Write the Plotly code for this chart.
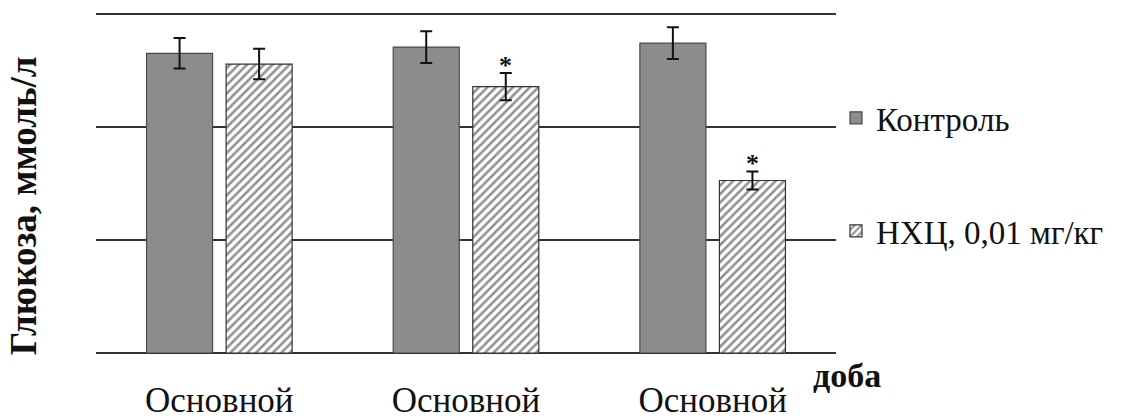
import plotly.graph_objects as go

categories = ["Основной", "Основной", "Основной"]
control_vals = [5.30, 5.41, 5.48]
control_err = [0.27, 0.28, 0.28]
nhc_vals = [5.11, 4.71, 3.05]
nhc_err = [0.27, 0.24, 0.16]
nhc_signif = [False, True, True]
series_names = ["Контроль", "НХЦ, 0,01 мг/кг"]
y_title = "Глюкоза, ммоль/л"
x_title = "доба"

FONT = "Liberation Serif"
xs = list(range(len(categories)))
bargap = 0.355
slot = (1 - bargap) / 2
PLOT_TOP, PLOT_BOT, PLOT_L, PLOT_R = 13.3, 353.3, 96, 836
ph = PLOT_BOT - PLOT_TOP
pw = PLOT_R - PLOT_L
ymax = 6.03

fig = go.Figure()
fig.add_trace(go.Bar(
    x=xs, y=control_vals, name=series_names[0], legendgroup="a",
    marker=dict(color="#8c8c8c", line=dict(color="#4a4a4a", width=1.2)),
    error_y=dict(type="data", array=control_err, color="#111", thickness=2, width=6),
))
fig.add_trace(go.Bar(
    x=xs, y=nhc_vals, name=series_names[1], legendgroup="b",
    marker=dict(color="white", line=dict(color="#333", width=1.2),
                pattern=dict(shape="/", fgcolor="#222", bgcolor="white", size=6, solidity=0.42)),
    error_y=dict(type="data", array=nhc_err, color="#111", thickness=2, width=6),
))

annotations = []
for i, (v, e, s) in enumerate(zip(nhc_vals, nhc_err, nhc_signif)):
    if s:
        annotations.append(dict(x=i + slot / 2, y=v + e, xref="x", yref="y", text="<b>*</b>",
                                showarrow=False, yanchor="bottom", yshift=-9,
                                font=dict(family=FONT, size=26, color="#111")))
annotations.append(dict(x=-73 / pw, y=(PLOT_BOT - 207) / ph, xref="paper", yref="paper",
                        text="<b>" + y_title + "</b>", textangle=-90, showarrow=False,
                        xanchor="center", yanchor="middle",
                        font=dict(family=FONT, size=37, color="#111")))
annotations.append(dict(x=(847 - PLOT_L) / pw, y=(PLOT_BOT - 376) / ph, xref="paper", yref="paper",
                        text="<b>" + x_title + "</b>", showarrow=False,
                        xanchor="center", yanchor="middle",
                        font=dict(family=FONT, size=34, color="#111")))

fig.update_layout(
    width=1122, height=419,
    margin=dict(l=PLOT_L, r=1122 - PLOT_R, t=PLOT_TOP - (ymax - 6) * ph / 6, b=419 - PLOT_BOT, pad=0),
    paper_bgcolor="white", plot_bgcolor="white",
    barmode="group", bargap=bargap, bargroupgap=0.17,
    font=dict(family=FONT, color="#111"),
    xaxis=dict(tickmode="array", tickvals=xs, ticktext=categories, range=[-0.5, 2.5],
               showgrid=False, zeroline=False, showline=False, ticks="", automargin=False,
               tickfont=dict(family=FONT, size=35, color="#111"), ticklabelstandoff=23),
    yaxis=dict(range=[0, ymax], tickmode="array", tickvals=[0, 2, 4, 6], showticklabels=False,
               showgrid=True, gridcolor="#333", gridwidth=1.6, zeroline=True, automargin=False,
               zerolinecolor="#333", zerolinewidth=1.6, showline=False, ticks=""),
    legend=dict(x=1.0, y=(PLOT_BOT - 91) / ph, xanchor="left", yanchor="top",
                traceorder="grouped", tracegroupgap=67,
                font=dict(family=FONT, size=33, color="#111"), bgcolor="rgba(0,0,0,0)"),
    annotations=annotations,
    showlegend=True,
)
fig.write_html("out.html", config={"displayModeBar": False},
               post_script="document.body.style.margin='0px';")
